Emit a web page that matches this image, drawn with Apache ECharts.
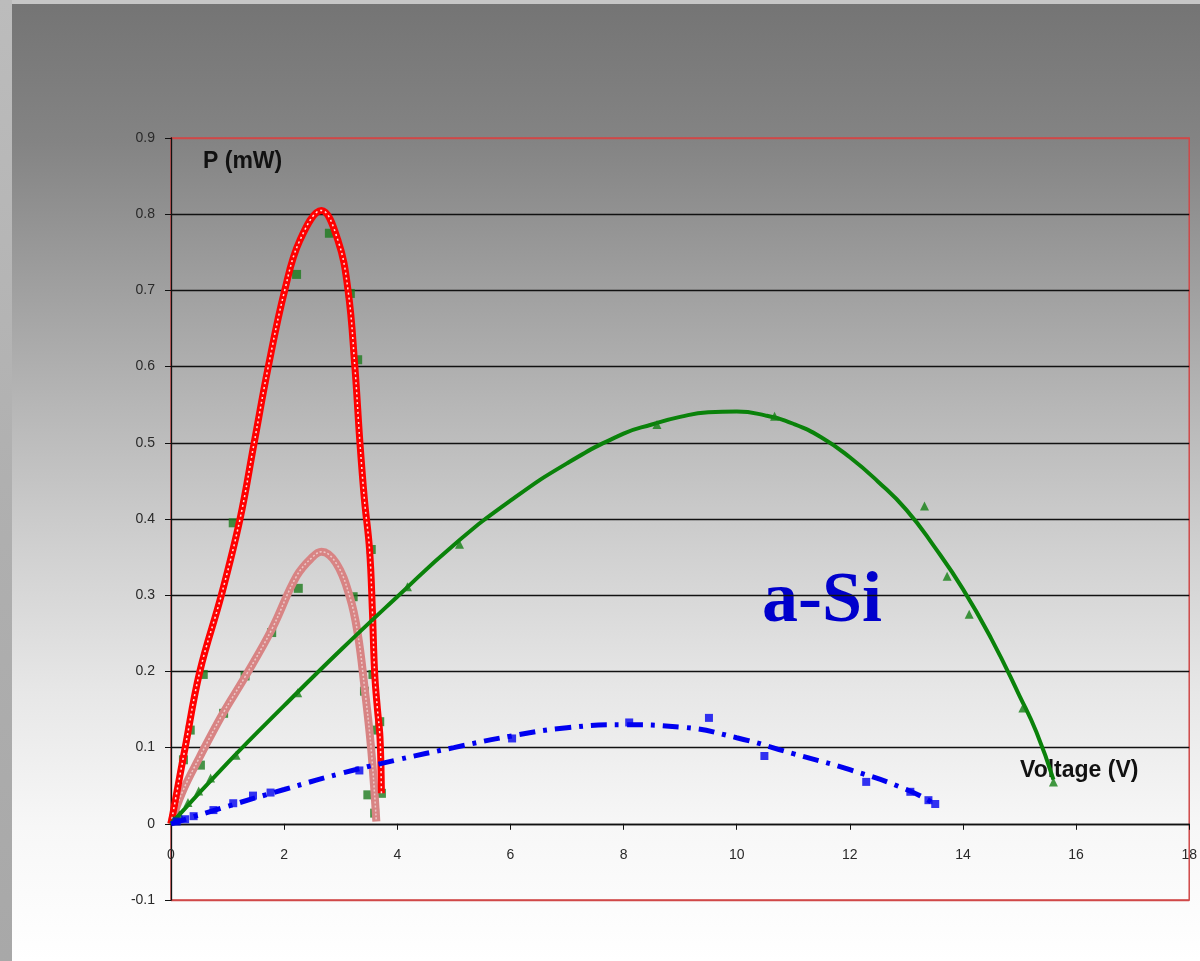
<!DOCTYPE html>
<html>
<head>
<meta charset="utf-8">
<script src="https://cdn.jsdelivr.net/npm/echarts@6/dist/echarts.min.js"></script>
<style>
html,body{margin:0;padding:0;}
#wrap{position:relative;width:1200px;height:961px;overflow:hidden;
background:linear-gradient(to bottom,#747474 0%,#848484 15%,#b6b6b6 42%,#d0d0d0 57%,#e7e7e7 72%,#f7f7f7 86%,#ffffff 100%);}
#top{position:absolute;left:0;top:0;width:1200px;height:4px;background:#c6c6c6;}
#left{position:absolute;left:0;top:0;width:12px;height:961px;background:linear-gradient(to bottom,#bcbcbc,#b0b0b0 50%,#a8a8a8);}
#chart{position:absolute;left:0;top:0;width:1200px;height:961px;}
</style>
</head>
<body>
<div id="wrap"><div id="top"></div><div id="left"></div><div id="chart"></div></div>
<script>
// ---- data (Voltage V, Power mW) ----
const xTicks = [0, 2, 4, 6, 8, 10, 12, 14, 16, 18];
const yTicks = [-0.1, 0, 0.1, 0.2, 0.3, 0.4, 0.5, 0.6, 0.7, 0.8, 0.9];

const redFit = [[0,0],[0.25,0.1],[0.51,0.2],[0.89,0.3],[1.22,0.4],[1.47,0.5],[1.72,0.6],[2.01,0.7],[2.28,0.766],[2.66,0.805],[2.95,0.766],[3.13,0.7],[3.25,0.6],[3.34,0.5],[3.42,0.425],[3.51,0.36],[3.56,0.28],[3.6,0.198],[3.65,0.15],[3.69,0.119],[3.71,0.08],[3.72,0.04]];
const pinkFit = [[0,0],[0.19,0.04],[0.51,0.088],[0.92,0.145],[1.31,0.193],[1.78,0.255],[2.22,0.325],[2.5,0.35],[2.66,0.357],[2.92,0.342],[3.16,0.298],[3.3,0.25],[3.42,0.18],[3.54,0.097],[3.63,0.003]];
const cSiPoints = [[0.16,0.045],[0.22,0.084],[0.34,0.123],[0.57,0.196],[1.1,0.395],[2.22,0.721],[2.8,0.775],[3.17,0.696],[3.3,0.609],[3.54,0.36],[3.57,0.196],[3.69,0.134],[3.72,0.04],[3.48,0.038],[3.6,0.014],
  [0.52,0.077],[0.93,0.145],[1.31,0.194],[1.78,0.251],[2.25,0.309],[3.22,0.298],[3.42,0.174],[3.57,0.123]];
const greenFit = [[0,0],[1,0.08],[2,0.155],[3,0.228],[4,0.298],[5,0.366],[6,0.424],[7,0.473],[8,0.512],[8.5,0.524],[9,0.534],[9.5,0.54],[10,0.541],[10.5,0.536],[11,0.525],[11.5,0.507],[12,0.481],[12.5,0.449],[13,0.412],[13.5,0.363],[14,0.308],[14.5,0.243],[15,0.168],[15.3,0.12],[15.6,0.058]];
const greenPoints = [[0.05,0.005],[0.15,0.012],[0.3,0.028],[0.49,0.043],[0.7,0.06],[1.15,0.09],[2.24,0.172],[4.18,0.311],[5.1,0.367],[8.59,0.524],[10.67,0.535],[13.32,0.417],[13.72,0.325],[14.11,0.275],[15.06,0.152],[15.6,0.055]];
const blueFit = [[0,0],[1,0.023],[2,0.045],[3,0.066],[4,0.084],[5,0.1],[6,0.115],[7,0.126],[8,0.13],[9,0.127],[10,0.113],[11,0.092],[12,0.071],[13,0.045],[13.5,0.026]];
const bluePoints = [[0.1,0.003],[0.25,0.006],[0.4,0.01],[0.75,0.018],[1.1,0.027],[1.45,0.037],[1.76,0.041],[3.33,0.07],[6.03,0.112],[8.1,0.133],[9.51,0.139],[10.49,0.089],[12.29,0.055],[13.07,0.042],[13.39,0.031],[13.51,0.026]];

const chart = echarts.init(document.getElementById('chart'), null, {renderer:'canvas'});
const lblFont = {fontFamily:'Liberation Sans, Arial, sans-serif', fontSize:14, color:'#2a2a2a'};
const splitColors = yTicks.map((v,i)=> (i===0 || i===yTicks.length-1) ? '#d04848' : '#111111');
const plotH = 961 - 138 - 61;
const zeroOffset = -plotH * (0 - yTicks[0]) / (yTicks[yTicks.length-1] - yTicks[0]);

chart.setOption({
  backgroundColor:'transparent',
  animation:false,
  grid:{left:171, top:138, right:7, bottom:61, show:true, borderColor:'#d04848', borderWidth:1.5, backgroundColor:'transparent'},
  xAxis:{type:'value', min:xTicks[0], max:xTicks[xTicks.length-1], interval:2,
    offset:zeroOffset,
    axisLine:{show:true, onZero:false, lineStyle:{color:'#111', width:1.3}},
    axisTick:{show:true, inside:false, length:6, lineStyle:{color:'#111'}},
    axisLabel:Object.assign({margin:24, showMaxLabel:true}, lblFont),
    splitLine:{show:false}},
  yAxis:{type:'value', min:yTicks[0], max:yTicks[yTicks.length-1], interval:0.1,
    axisLine:{show:true, onZero:false, lineStyle:{color:'#111', width:1.3}},
    axisTick:{show:true, inside:false, length:6, lineStyle:{color:'#111'}},
    axisLabel:Object.assign({margin:16, formatter:v=>String(Math.round(v*10)/10)}, lblFont),
    splitLine:{show:true, lineStyle:{color:splitColors, width:1.3}}},
  series:[
    {type:'scatter', data:cSiPoints, symbol:'rect', symbolSize:9, itemStyle:{color:'#1d7a1d'}, z:2},
    {type:'line', data:pinkFit, smooth:0.4, showSymbol:false, lineStyle:{color:'#d88484', width:8}, z:3},
    {type:'line', data:pinkFit, smooth:0.4, showSymbol:false, lineStyle:{color:'rgba(255,255,255,0.55)', width:1.5, type:[2,2]}, z:3},
    {type:'line', data:redFit, smooth:0.4, showSymbol:false, lineStyle:{color:'#ff0000', width:7}, z:4},
    {type:'line', data:redFit, smooth:0.4, showSymbol:false, lineStyle:{color:'rgba(255,255,255,0.9)', width:1.5, type:[2,3]}, z:4},
    {type:'line', data:greenFit, smooth:0.5, showSymbol:false, lineStyle:{color:'#0a820a', width:4}, z:5},
    {type:'scatter', data:greenPoints, symbol:'triangle', symbolSize:9, itemStyle:{color:'#137f13'}, z:5},
    {type:'line', data:blueFit, smooth:0.5, showSymbol:false, lineStyle:{color:'#0000f0', width:5, type:[16,8,4,8]}, z:6},
    {type:'scatter', data:bluePoints, symbol:'rect', symbolSize:8, itemStyle:{color:'#0000f0'}, z:6}
  ],
  graphic:[
    {type:'text', left:203, top:150, style:{text:'P (mW)', font:'bold 23px "Liberation Sans", Arial, sans-serif', fill:'#111'}},
    {type:'text', left:1020, top:759, style:{text:'Voltage (V)', font:'bold 23px "Liberation Sans", Arial, sans-serif', fill:'#111'}},
    {type:'text', left:762, top:566, style:{text:'a-Si', font:'bold 72px "Liberation Serif", "Times New Roman", serif', fill:'#0000cc'}}
  ]
});
</script>
</body>
</html>
